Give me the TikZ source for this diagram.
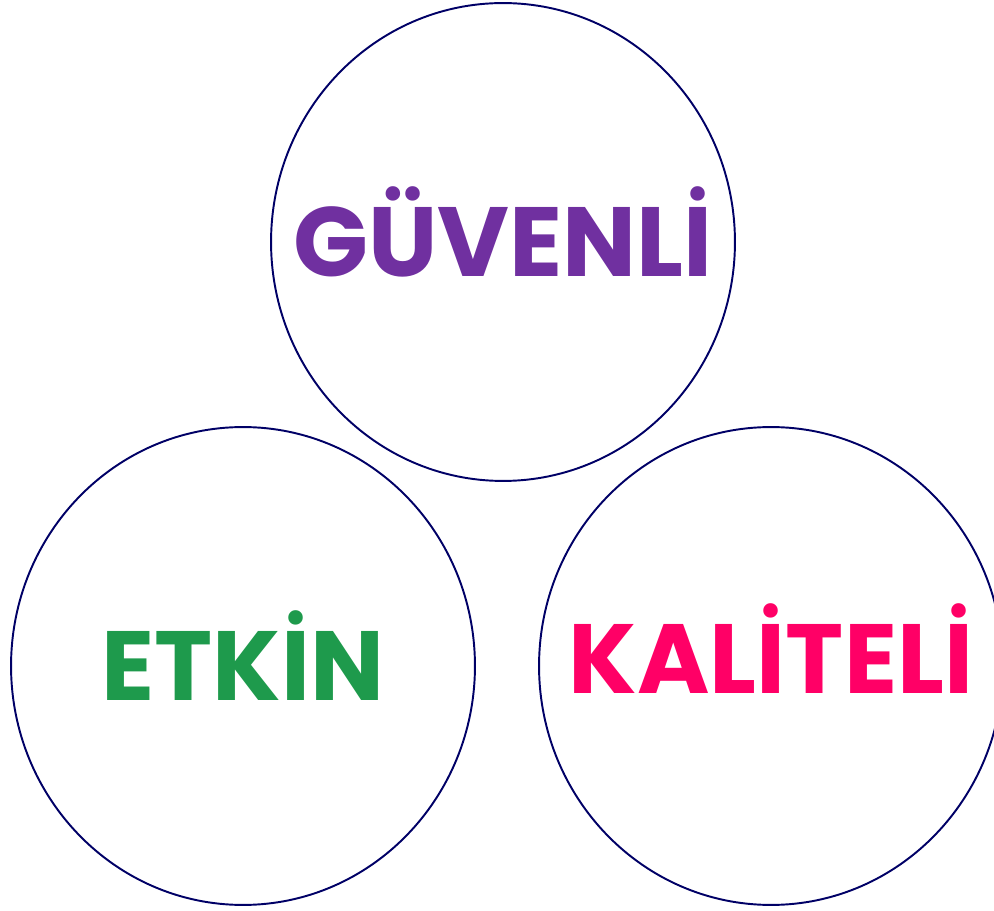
\documentclass[tikz,border=0pt]{standalone}
\usepackage{fontspec}
\setmainfont{Poppins}
\usepackage{xcolor}
\usetikzlibrary{shapes.geometric}

\definecolor{ringblue}{HTML}{000066}
\definecolor{wordpurple}{HTML}{7030A0}
\definecolor{wordgreen}{HTML}{1E9A4C}
\definecolor{wordpink}{HTML}{FF0066}

\begin{document}
\begin{tikzpicture}[
  x=0.02cm, y=-0.02cm,
  ring/.style={ellipse, draw=ringblue, line width=1.1pt, minimum width=9.28cm, minimum height=9.56cm, inner sep=0pt},
  word/.style={inner sep=0pt, font=\fontsize{56}{60}\selectfont\bfseries, text height=1.4cm, text depth=0pt},
]
\useasboundingbox (0,0) rectangle (994,911);

% top circle
\node[ring] (guvenli) at (503,242) {};
\node[word, text=wordpurple] (guvenlitext) at (guvenli.center) {GÜVENLİ};

% bottom circles
\node[ring] (etkin) at (243,666) {};
\node[word, text=wordgreen] (etkintext) at (etkin.center) {ETKİN};
\node[ring] (kaliteli) at (771,666) {};
\node[word, text=wordpink] (kalitelitext) at ([yshift=4pt]kaliteli.center) {KALİTELİ};

\end{tikzpicture}
\end{document}
